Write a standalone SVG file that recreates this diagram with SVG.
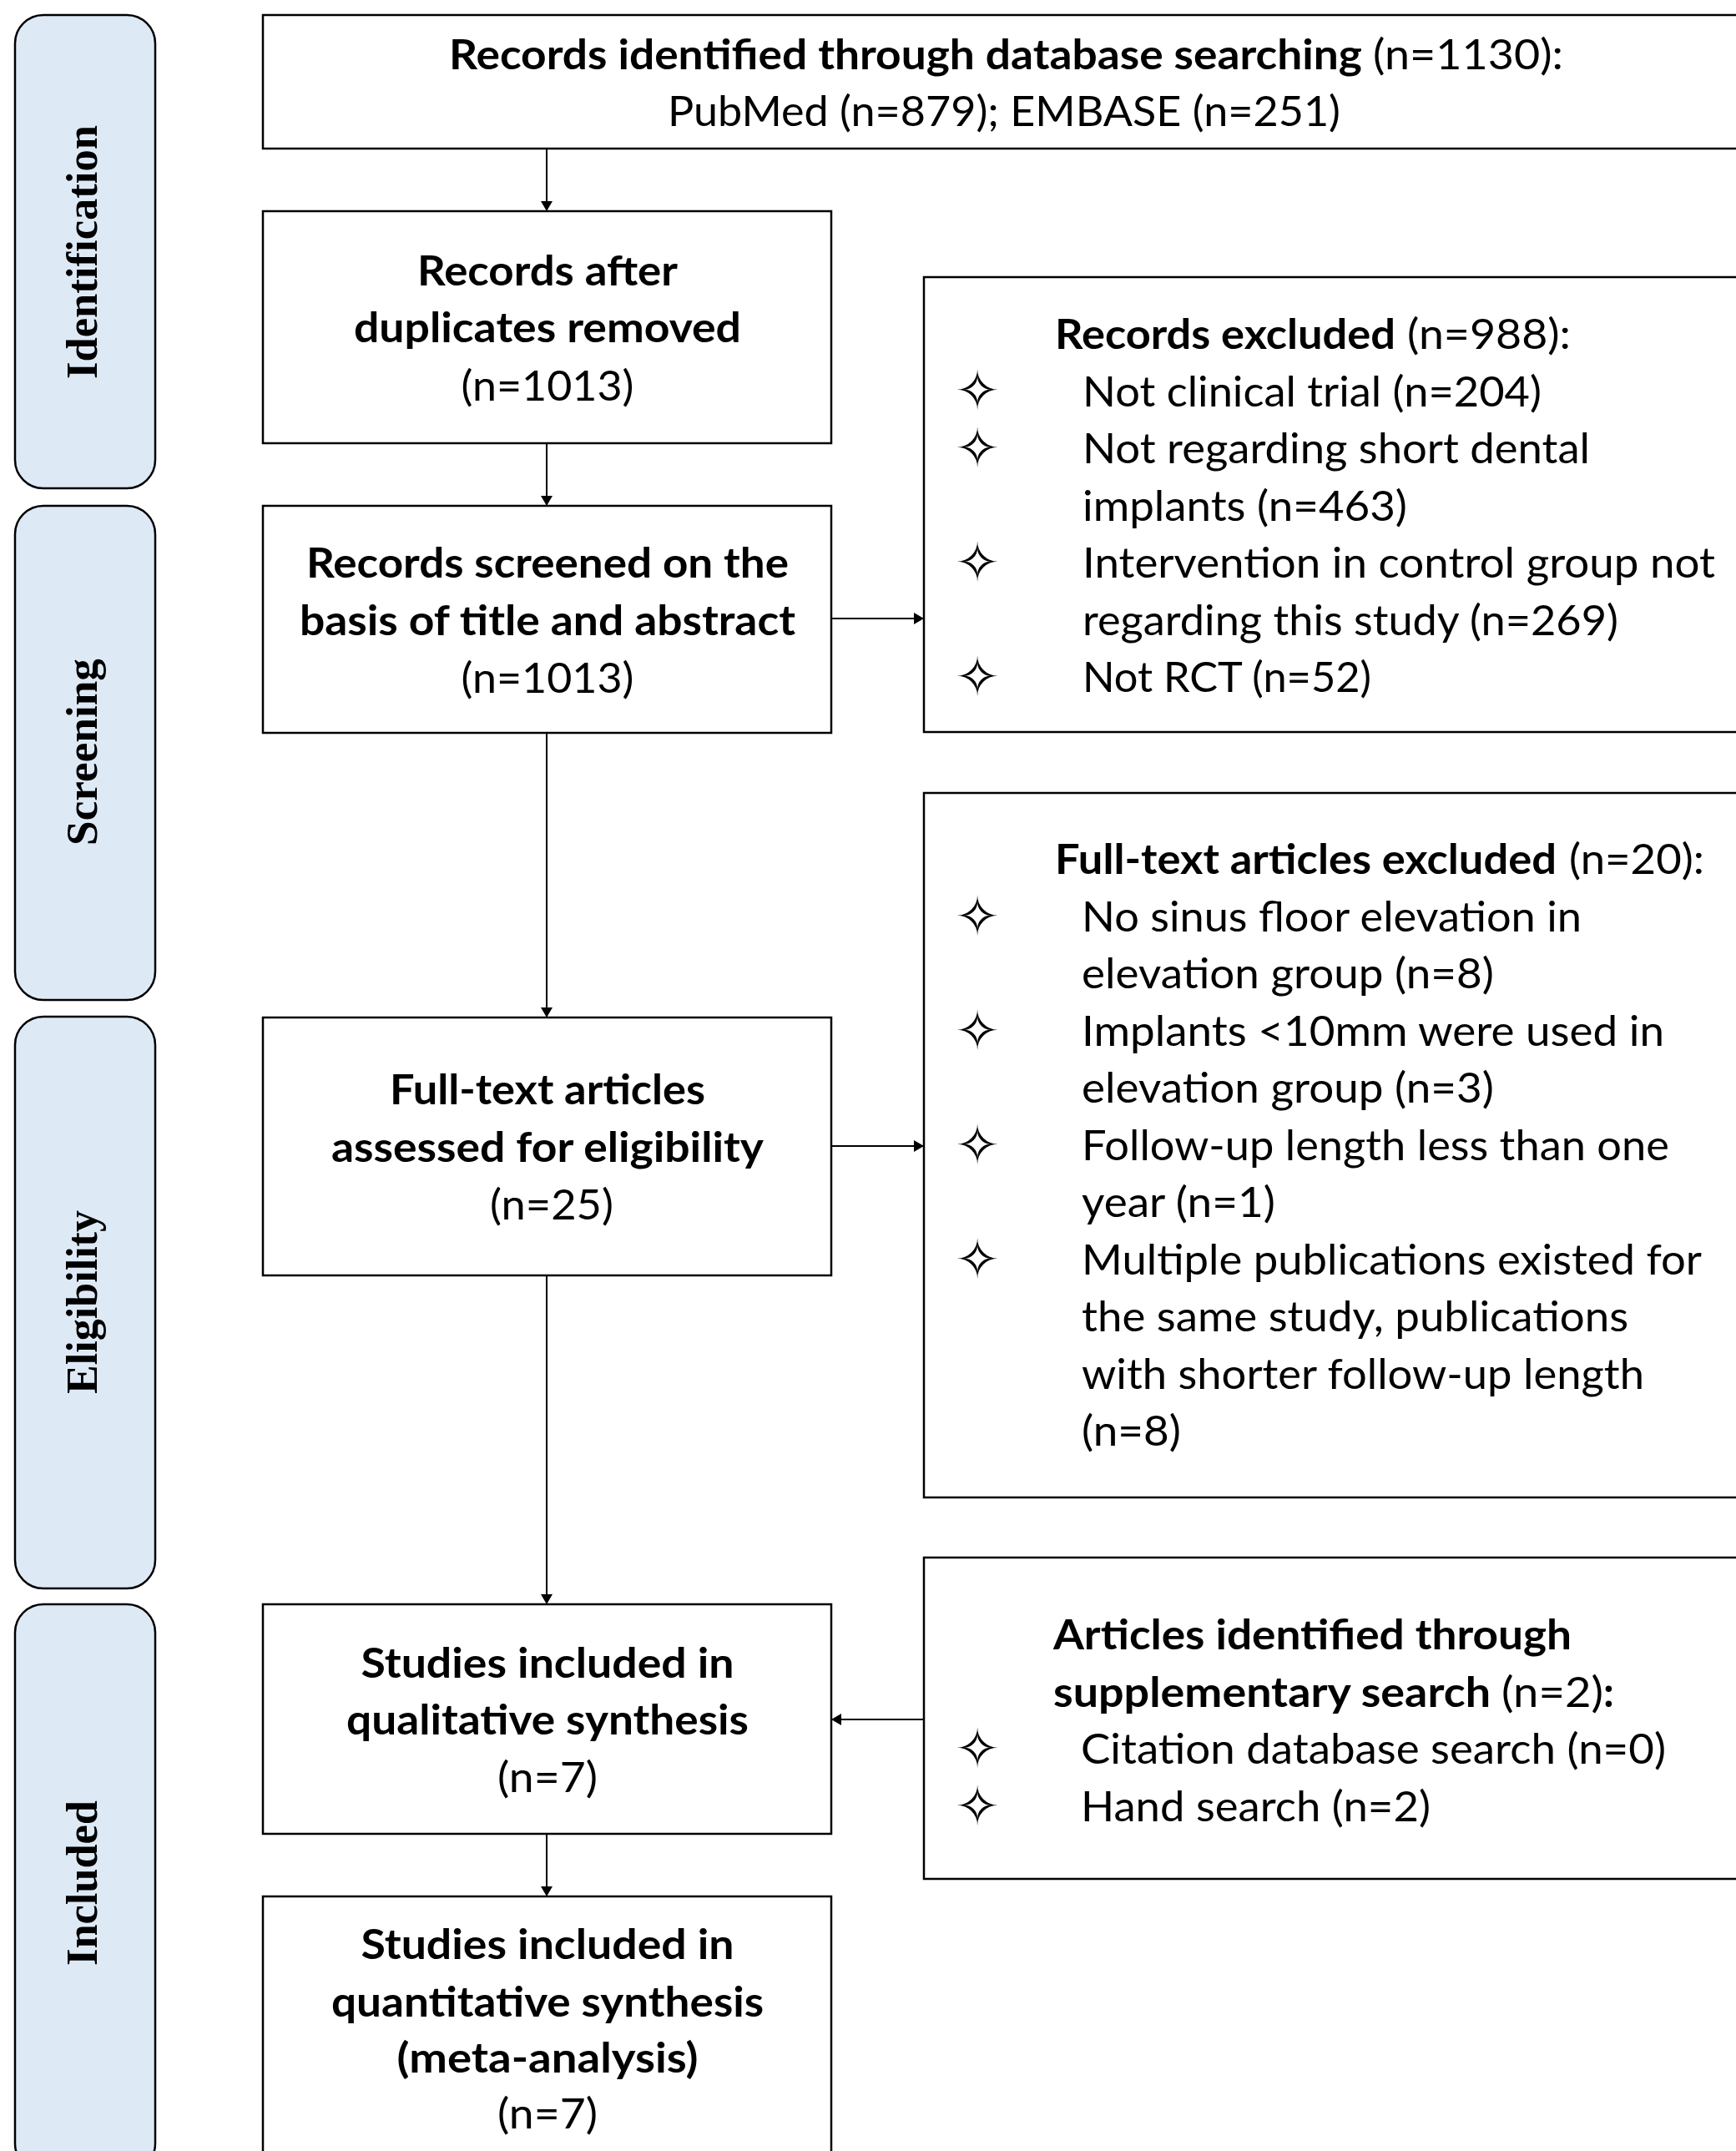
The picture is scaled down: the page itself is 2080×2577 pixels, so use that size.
<svg xmlns="http://www.w3.org/2000/svg" width="2080" height="2577" viewBox="0 0 2080 2577">
<defs>
<style>
.pill{fill:#DEE9F6;stroke:#000;stroke-width:2.5}
.box{fill:#fff;stroke:#000;stroke-width:2.5}
.lbl{font-family:"Liberation Serif","Times New Roman",serif;font-weight:bold;font-size:52px;fill:#000}
.t{font-family:Lato,"Open Sans",sans-serif;font-size:50px;fill:#000}
.b{font-weight:bold}
.m{text-anchor:middle}
.star{font-family:"DejaVu Sans",sans-serif;font-size:64px;fill:#000;text-anchor:middle}
.conn line{stroke:#000;stroke-width:2}
</style>
<marker id="ah" viewBox="0 0 12 14" refX="12" refY="7" markerWidth="12" markerHeight="14" markerUnits="userSpaceOnUse" orient="auto">
<path d="M0,0 L12,7 L0,14 Z" fill="#000"/>
</marker>
</defs>
<rect x="0" y="0" width="2080" height="2577" fill="#fff"/>

<g id="phase-identification">
<rect class="pill" x="18" y="18" width="168" height="567" rx="34"/>
<text class="lbl m" transform="translate(116,302) rotate(-90)" textLength="304" lengthAdjust="spacingAndGlyphs">Identification</text>
</g>
<g id="phase-screening">
<rect class="pill" x="18" y="606" width="168" height="592" rx="34"/>
<text class="lbl m" transform="translate(116,901) rotate(-90)" textLength="224" lengthAdjust="spacingAndGlyphs">Screening</text>
</g>
<g id="phase-eligibility">
<rect class="pill" x="18" y="1218" width="168" height="685" rx="34"/>
<text class="lbl m" transform="translate(116,1560) rotate(-90)" textLength="220" lengthAdjust="spacingAndGlyphs">Eligibility</text>
</g>
<g id="phase-included">
<rect class="pill" x="18" y="1922" width="168" height="680" rx="34"/>
<text class="lbl m" transform="translate(116,2256) rotate(-90)" textLength="198" lengthAdjust="spacingAndGlyphs">Included</text>
</g>

<g class="conn" id="connectors">
<line x1="655" y1="178" x2="655" y2="253" marker-end="url(#ah)"/>
<line x1="655" y1="531" x2="655" y2="606" marker-end="url(#ah)"/>
<line x1="655" y1="878" x2="655" y2="1219" marker-end="url(#ah)"/>
<line x1="655" y1="1528" x2="655" y2="1922" marker-end="url(#ah)"/>
<line x1="655" y1="2197" x2="655" y2="2272" marker-end="url(#ah)"/>
<line x1="996" y1="741" x2="1107" y2="741" marker-end="url(#ah)"/>
<line x1="996" y1="1373" x2="1107" y2="1373" marker-end="url(#ah)"/>
<line x1="1107" y1="2060" x2="996" y2="2060" marker-end="url(#ah)"/>
</g>

<g id="n-identified">
<rect class="box" x="315" y="18" width="1790" height="160"/>
<text class="t b" x="538" y="83" textLength="1094" lengthAdjust="spacingAndGlyphs">Records identified through database searching</text>
<text class="t" x="1645" y="83" textLength="228" lengthAdjust="spacingAndGlyphs">(n=1130):</text>
<text class="t" x="800" y="151" textLength="806" lengthAdjust="spacingAndGlyphs">PubMed (n=879); EMBASE (n=251)</text>
</g>

<g id="n-dedup">
<rect class="box" x="315" y="253" width="681" height="278"/>
<text class="t b m" x="656" y="342" textLength="312" lengthAdjust="spacingAndGlyphs">Records after</text>
<text class="t b m" x="656" y="410" textLength="464" lengthAdjust="spacingAndGlyphs">duplicates removed</text>
<text class="t m" x="656" y="480" textLength="207" lengthAdjust="spacingAndGlyphs">(n=1013)</text>
</g>

<g id="n-screened">
<rect class="box" x="315" y="606" width="681" height="272"/>
<text class="t b m" x="656" y="692" textLength="578" lengthAdjust="spacingAndGlyphs">Records screened on the</text>
<text class="t b m" x="656" y="761" textLength="594" lengthAdjust="spacingAndGlyphs">basis of title and abstract</text>
<text class="t m" x="656" y="830" textLength="207" lengthAdjust="spacingAndGlyphs">(n=1013)</text>
</g>

<g id="n-fulltext">
<rect class="box" x="315" y="1219" width="681" height="309"/>
<text class="t b m" x="656" y="1323" textLength="378" lengthAdjust="spacingAndGlyphs">Full-text articles</text>
<text class="t b m" x="656" y="1392" textLength="518" lengthAdjust="spacingAndGlyphs">assessed for eligibility</text>
<text class="t m" x="661" y="1461" textLength="148" lengthAdjust="spacingAndGlyphs">(n=25)</text>
</g>

<g id="n-qualitative">
<rect class="box" x="315" y="1922" width="681" height="275"/>
<text class="t b m" x="656" y="2010" textLength="447" lengthAdjust="spacingAndGlyphs">Studies included in</text>
<text class="t b m" x="656" y="2078" textLength="482" lengthAdjust="spacingAndGlyphs">qualitative synthesis</text>
<text class="t m" x="656" y="2147" textLength="120" lengthAdjust="spacingAndGlyphs">(n=7)</text>
</g>

<g id="n-quantitative">
<rect class="box" x="315" y="2272" width="681" height="400"/>
<text class="t b m" x="656" y="2347" textLength="447" lengthAdjust="spacingAndGlyphs">Studies included in</text>
<text class="t b m" x="656" y="2416" textLength="518" lengthAdjust="spacingAndGlyphs">quantitative synthesis</text>
<text class="t b m" x="656" y="2483" textLength="361" lengthAdjust="spacingAndGlyphs">(meta-analysis)</text>
<text class="t m" x="656" y="2550" textLength="120" lengthAdjust="spacingAndGlyphs">(n=7)</text>
</g>

<g id="n-records-excluded">
<rect class="box" x="1107" y="332" width="1000" height="545"/>
<text class="t b" x="1264" y="418" textLength="408" lengthAdjust="spacingAndGlyphs">Records excluded</text>
<text class="t" x="1686" y="418" textLength="196" lengthAdjust="spacingAndGlyphs">(n=988):</text>
<text class="star" x="1171" y="490">✧</text>
<text class="t" x="1297" y="486.5" textLength="550" lengthAdjust="spacingAndGlyphs">Not clinical trial (n=204)</text>
<text class="star" x="1171" y="559">✧</text>
<text class="t" x="1297" y="555" textLength="608" lengthAdjust="spacingAndGlyphs">Not regarding short dental</text>
<text class="t" x="1297" y="623.5" textLength="389" lengthAdjust="spacingAndGlyphs">implants (n=463)</text>
<text class="star" x="1171" y="696">✧</text>
<text class="t" x="1297" y="692" textLength="758" lengthAdjust="spacingAndGlyphs">Intervention in control group not</text>
<text class="t" x="1297" y="760.5" textLength="642" lengthAdjust="spacingAndGlyphs">regarding this study (n=269)</text>
<text class="star" x="1171" y="833">✧</text>
<text class="t" x="1297" y="829" textLength="346" lengthAdjust="spacingAndGlyphs">Not RCT (n=52)</text>
</g>

<g id="n-fulltext-excluded">
<rect class="box" x="1107" y="950" width="1000" height="844"/>
<text class="t b" x="1264" y="1047" textLength="601" lengthAdjust="spacingAndGlyphs">Full-text articles excluded</text>
<text class="t" x="1880" y="1047" textLength="162" lengthAdjust="spacingAndGlyphs">(n=20):</text>
<text class="star" x="1171" y="1119.5">✧</text>
<text class="t" x="1296" y="1115.5" textLength="599" lengthAdjust="spacingAndGlyphs">No sinus floor elevation in</text>
<text class="t" x="1296" y="1184" textLength="494" lengthAdjust="spacingAndGlyphs">elevation group (n=8)</text>
<text class="star" x="1171" y="1256.5">✧</text>
<text class="t" x="1296" y="1252.5" textLength="698" lengthAdjust="spacingAndGlyphs">Implants &lt;10mm were used in</text>
<text class="t" x="1296" y="1321" textLength="494" lengthAdjust="spacingAndGlyphs">elevation group (n=3)</text>
<text class="star" x="1171" y="1393.5">✧</text>
<text class="t" x="1296" y="1389.5" textLength="704" lengthAdjust="spacingAndGlyphs">Follow-up length less than one</text>
<text class="t" x="1296" y="1458" textLength="232" lengthAdjust="spacingAndGlyphs">year (n=1)</text>
<text class="star" x="1171" y="1530.5">✧</text>
<text class="t" x="1296" y="1526.5" textLength="743" lengthAdjust="spacingAndGlyphs">Multiple publications existed for</text>
<text class="t" x="1296" y="1595" textLength="655" lengthAdjust="spacingAndGlyphs">the same study, publications</text>
<text class="t" x="1296" y="1663.5" textLength="674" lengthAdjust="spacingAndGlyphs">with shorter follow-up length</text>
<text class="t" x="1296" y="1732" textLength="119" lengthAdjust="spacingAndGlyphs">(n=8)</text>
</g>

<g id="n-supplementary">
<rect class="box" x="1107" y="1866" width="1000" height="385"/>
<text class="t b" x="1262" y="1976" textLength="621" lengthAdjust="spacingAndGlyphs">Articles identified through</text>
<text class="t b" x="1262" y="2044.5" textLength="524" lengthAdjust="spacingAndGlyphs">supplementary search</text>
<text class="t" x="1799" y="2044.5" textLength="122" lengthAdjust="spacingAndGlyphs">(n=2)</text>
<text class="t b" x="1921" y="2044.5">:</text>
<text class="star" x="1171" y="2117">✧</text>
<text class="t" x="1295" y="2113" textLength="701" lengthAdjust="spacingAndGlyphs">Citation database search (n=0)</text>
<text class="star" x="1171" y="2185.5">✧</text>
<text class="t" x="1295" y="2181.5" textLength="419" lengthAdjust="spacingAndGlyphs">Hand search (n=2)</text>
</g>
</svg>
